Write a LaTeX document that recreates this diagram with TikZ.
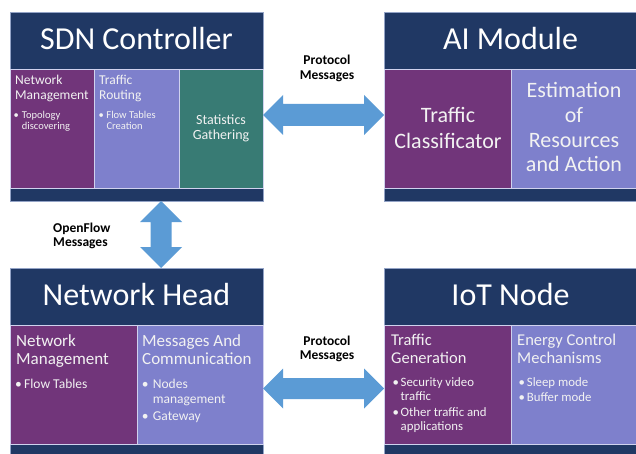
\documentclass[tikz,border=0pt]{standalone}
\usepackage{fontspec}
\setmainfont{Carlito}
\usetikzlibrary{calc}

\definecolor{bandnavy}{HTML}{203864}
\definecolor{cellplum}{HTML}{71357A}
\definecolor{celllav}{HTML}{7E80CC}
\definecolor{cellteal}{HTML}{387B74}
\definecolor{flowblue}{HTML}{5B9BD5}
\definecolor{panelrim}{HTML}{93A3C6}
\definecolor{cellrim}{HTML}{D0D2EE}
\definecolor{celltext}{HTML}{F2F2F2}

% font size shortcut
\newcommand\fs[2]{\fontsize{#1}{#2}\selectfont}
% bullet item: dot centred on the line start, text after a gap
\newcommand\bitem[2]{\makebox[0pt][c]{\textbullet}\hspace*{#1}#2}
\newcommand\bcont[2]{\hspace*{#1}#2}
% horizontal double arrow between two points: head length, half head width, half shaft width
\newcommand\harrow[5]{%
  \fill[flowblue] let \p1=(#1), \p2=(#2) in
    (\x1,\y1) -- (\x1+#3,\y1+#4) -- (\x1+#3,\y1+#5) -- (\x2-#3,\y1+#5) -- (\x2-#3,\y1+#4)
    -- (\x2,\y1) -- (\x2-#3,\y1-#4) -- (\x2-#3,\y1-#5) -- (\x1+#3,\y1-#5) -- (\x1+#3,\y1-#4) -- cycle;}
% vertical double arrow, top point first
\newcommand\varrow[5]{%
  \fill[flowblue] let \p1=(#1), \p2=(#2) in
    (\x1,\y1) -- (\x1+#4,\y1-#3) -- (\x1+#5,\y1-#3) -- (\x1+#5,\y2+#3) -- (\x1+#4,\y2+#3)
    -- (\x1,\y2) -- (\x1-#4,\y2+#3) -- (\x1-#5,\y2+#3) -- (\x1-#5,\y1-#3) -- (\x1-#4,\y1-#3) -- cycle;}

\begin{document}
% multi-line text nodes are placed by the baseline of their last line
\begin{tikzpicture}[x=1pt, y=-1pt,
  panel/.style={fill=bandnavy, draw=panelrim, line width=0.8pt, anchor=north west, inner sep=0pt, outer sep=0pt},
  cell/.style={draw=cellrim, line width=0.6pt, anchor=north west, inner sep=0pt, outer sep=0pt},
  ttl/.style={text=white, font=\fs{32}{38}, anchor=base, inner sep=0pt},
  hd/.style={text=celltext, align=left, anchor=base west, inner sep=0pt},
  ctr/.style={text=celltext, align=center, anchor=base, inner sep=0pt},
  lbl/.style={font=\bfseries\fs{13.5}{14.3}, text=black, inner sep=0pt, anchor=base}]
\useasboundingbox (0,0) rectangle (636,454);

% SDN Controller
\node[panel, minimum width=253pt, minimum height=189pt] (sdn) at (10,12) {};
\node[ttl] (sdnT) at (136.5,49.3) {SDN Controller};
\node[cell, fill=cellplum, minimum width=84pt, minimum height=119pt] (sdnNM) at (10,69) {};
\node[cell, fill=celllav, minimum width=85pt, minimum height=119pt] (sdnTR) at (94,69) {};
\node[cell, fill=cellteal, minimum width=84pt, minimum height=119pt] (sdnSG) at (179,69) {};
\node[hd, font=\fs{13.5}{15}] (sdnNMh) at (15,100) {Network\\Management};
\node[hd, font=\fs{10.5}{11.7}] (sdnNMb) at (16,130) {\bitem{5.7pt}{Topology}\\\bcont{5.7pt}{discovering}};
\node[hd, font=\fs{13.5}{15}] (sdnTRh) at (99,100) {Traffic\\Routing};
\node[hd, font=\fs{10.5}{11.7}] (sdnTRb) at (101,130) {\bitem{5.3pt}{Flow Tables}\\\bcont{5.3pt}{Creation}};
\node[ctr, font=\fs{14}{15}] (sdnSGt) at (221,140) {Statistics\\Gathering};

% AI Module
\node[panel, minimum width=253pt, minimum height=189pt] (ai) at (384,12) {};
\node[ttl] (aiT) at (510.5,49.3) {AI Module};
\node[cell, fill=cellplum, minimum width=127pt, minimum height=119pt] (aiTC) at (384,69) {};
\node[cell, fill=celllav, minimum width=126pt, minimum height=119pt] (aiER) at (511,69) {};
\node[ctr, font=\fs{22}{25.5}] (aiTCt) at (448,148.2) {Traffic\\Classificator};
\node[ctr, font=\fs{22}{24.7}] (aiERt) at (574,171.8) {Estimation\\of\\Resources\\and Action};

% Network Head
\node[panel, minimum width=253pt, minimum height=188pt] (nh) at (10,268) {};
\node[ttl] (nhT) at (136.5,305) {Network Head};
\node[cell, fill=cellplum, minimum width=127pt, minimum height=119pt] (nhNM) at (10,325) {};
\node[cell, fill=celllav, minimum width=126pt, minimum height=119pt] (nhMC) at (137,325) {};
\node[hd, font=\fs{17}{18.5}] (nhNMh) at (16,364.5) {Network\\Management};
\node[hd, font=\fs{13.5}{15}] (nhNMb) at (18.3,388.3) {\bitem{5.7pt}{Flow Tables}};
\node[hd, font=\fs{17}{18.5}] (nhMCh) at (142,364.5) {Messages And\\Communication};
\node[hd, font=\fs{13.5}{15}] (nhMCb) at (145,420.7)
  {\bitem{7.7pt}{Nodes}\\\bcont{7.7pt}{management}\\[2.4pt]\bitem{7.7pt}{Gateway}};

% IoT Node
\node[panel, minimum width=253pt, minimum height=188pt] (iot) at (384,268) {};
\node[ttl] (iotT) at (510.5,305) {IoT Node};
\node[cell, fill=cellplum, minimum width=127pt, minimum height=119pt] (iotTG) at (384,325) {};
\node[cell, fill=celllav, minimum width=126pt, minimum height=119pt] (iotEC) at (511,325) {};
\node[hd, font=\fs{16.5}{18.3}] (iotTGh) at (391,363.3) {Traffic\\Generation};
\node[hd, font=\fs{12.8}{13.4}] (iotTGb) at (395.7,430.2)
  {\bitem{4.8pt}{Security video}\\\bcont{4.8pt}{traffic}\\[3.3pt]\bitem{4.8pt}{Other traffic and}\\\bcont{4.8pt}{applications}};
\node[hd, font=\fs{16.5}{18.3}] (iotECh) at (517,363.3) {Energy Control\\Mechanisms};
\node[hd, font=\fs{12.8}{13.4}] (iotECb) at (521.7,401.7) {\bitem{5pt}{Sleep mode}\\[2.3pt]\bitem{5pt}{Buffer mode}};

% connectors
\path (sdn.east) ++(0,8.5) coordinate (pmAL);
\path (ai.west) ++(0,8.5) coordinate (pmAR);
\path (nh.east) ++(0,26.5) coordinate (pmBL);
\path (iot.west) ++(0,26.5) coordinate (pmBR);
\path (sdn.south) ++(24.5,0) coordinate (ofT);
\path (nh.north) ++(24.5,0) coordinate (ofB);
\harrow{pmAL}{pmAR}{20pt}{20pt}{11pt}
\harrow{pmBL}{pmBR}{20pt}{20pt}{10.5pt}
\varrow{ofT}{ofB}{21pt}{21pt}{10.5pt}

% connector labels
\node[lbl, align=center] (pmAt) at (327,79.3) {Protocol\\Messages};
\node[lbl, align=center] (pmBt) at (327,359.3) {Protocol\\Messages};
\node[lbl, align=left, anchor=base west] (oft) at (53,246.3) {OpenFlow\\Messages};
\end{tikzpicture}
\end{document}
